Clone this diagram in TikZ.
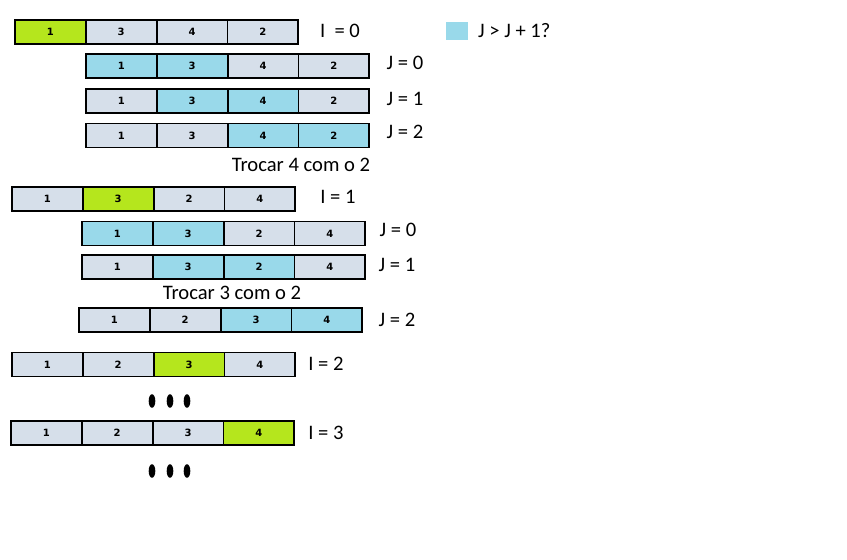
\documentclass[tikz,border=0pt]{standalone}
\usepackage{fontspec}
\setmainfont{Carlito}
\newfontfamily\cellfam{DejaVu Sans}
\definecolor{cgreen}{HTML}{B5E61D}
\definecolor{cblue}{HTML}{99D9EA}
\definecolor{cgrey}{HTML}{D6DFEA}
\tikzset{
  cell/.style={draw=black, line width=1.8pt, minimum width=70.8pt, minimum height=24pt,
    inner sep=0pt, outer sep=0pt, font=\cellfam\bfseries\fontsize{10}{11}\selectfont},
  gcell/.style={cell, fill=cgreen},
  bcell/.style={cell, fill=cblue},
  ncell/.style={cell, fill=cgrey},
  lbl/.style={font=\fontsize{20.6}{22}\selectfont, inner sep=0pt},
}
\newcommand\ArrRow[4]{%
  \foreach [count=\k] \s/\v in {#4} {
    \node[\s] (#1c\k) at ({#2+35.4+(\k-1)*70.8},#3) {\v};
  }%
}
\begin{document}
\begin{tikzpicture}[x=1pt,y=-1pt]
\useasboundingbox (0,0) rectangle (847,560);
% legend
\node[fill=cblue, minimum width=22pt, minimum height=18pt, inner sep=0pt] (leg) at (457,31) {};
\node[lbl, anchor=west] (legtxt) at (478,31) {J > J + 1?};
% I = 0
\ArrRow{a}{15}{32}{gcell/1, ncell/3, ncell/4, ncell/2}
\node[lbl] (la) at (340,31) {I\ \ = 0};
\ArrRow{b}{86}{66}{bcell/1, bcell/3, ncell/4, ncell/2}
\node[lbl] (lb) at (405,63) {J = 0};
\ArrRow{c}{86}{101}{ncell/1, bcell/3, bcell/4, ncell/2}
\node[lbl] (lc) at (405,99) {J = 1};
\ArrRow{d}{86}{135.5}{ncell/1, ncell/3, bcell/4, bcell/2}
\node[lbl] (ld) at (405,132) {J = 2};
\node[lbl] (t1) at (301,165) {Trocar 4 com o 2};
% I = 1
\ArrRow{e}{12}{199}{ncell/1, gcell/3, ncell/2, ncell/4}
\node[lbl] (le) at (338,197) {I = 1};
\ArrRow{f}{82}{233.5}{bcell/1, bcell/3, ncell/2, ncell/4}
\node[lbl] (lf) at (398,230) {J = 0};
\ArrRow{g}{82}{267}{ncell/1, bcell/3, bcell/2, ncell/4}
\node[lbl] (lg) at (397,265) {J = 1};
\node[lbl] (t2) at (232,293) {Trocar 3 com o 2};
\ArrRow{h}{79}{320}{ncell/1, ncell/2, bcell/3, bcell/4}
\node[lbl] (lh) at (397,320) {J = 2};
% I = 2
\ArrRow{i}{12}{364.5}{ncell/1, ncell/2, gcell/3, ncell/4}
\node[lbl] (li) at (326,364) {I = 2};
\foreach \xx in {152,170,187} \fill[black] (\xx,401) ellipse [x radius=3.3, y radius=6.8];
% I = 3
\ArrRow{k}{11}{433}{ncell/1, ncell/2, ncell/3, gcell/4}
\node[lbl] (lk) at (326,433) {I = 3};
\foreach \xx in {152,170,187} \fill[black] (\xx,471) ellipse [x radius=3.3, y radius=6.8];
\end{tikzpicture}
\end{document}
